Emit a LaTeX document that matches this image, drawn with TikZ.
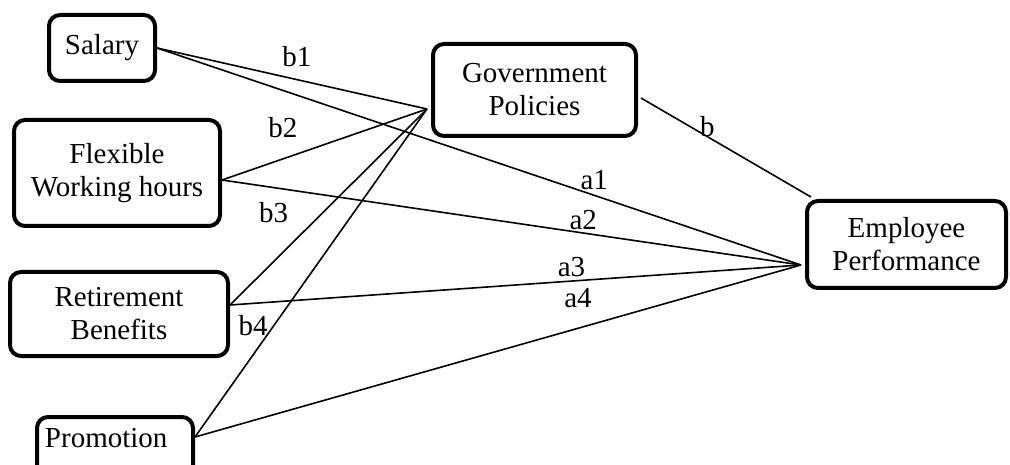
\documentclass[tikz,border=0pt]{standalone}
\usepackage{fontspec}
\setmainfont{Liberation Serif}
\usetikzlibrary{positioning}

\begin{document}
\begin{tikzpicture}[x=1pt,y=-1pt,font=\fontsize{29}{33}\selectfont,
 var/.style={draw,line width=4pt,rounded corners=11pt,align=center,inner sep=0pt},
 link/.style={line width=1.6pt},
 lab/.style={inner sep=0pt}]
 \useasboundingbox (0,0) rectangle (1010,465);
 \clip (0,0) rectangle (1010,465);
 \node[var,minimum width=106pt,minimum height=66pt] (sal) at (102,48) {Salary};
 \node[var,minimum width=206pt,minimum height=106pt] (flex) at (117,173) {Flexible\\Working hours};
 \node[var,minimum width=218pt,minimum height=84pt] (ret) at (119,314) {Retirement\\Benefits};
 \node[var,anchor=north west,minimum width=156pt,text width=140pt,align=left,
 inner xsep=8pt,inner ysep=10pt,text height=20pt,text depth=40pt] (promo) at (35,415) {Promotion};
 \node[var,minimum width=203pt,minimum height=92pt] (gov) at (534.5,90) {Government\\Policies};
 \node[var,minimum width=199pt,minimum height=87pt] (emp) at (906.5,244.5) {Employee\\Performance};
 \draw[link] (sal.east) -- node[lab,pos=.518,yshift=22.6pt] {b1} ([xshift=-4pt,yshift=-19pt]gov.west);
 \draw[link] ([yshift=-7pt]flex.east) -- node[lab,pos=.297,yshift=31pt] {b2} ([xshift=-4pt,yshift=-19pt]gov.west);
 \draw[link] ([yshift=9pt]ret.east) -- ([xshift=-4pt,yshift=-19pt]gov.west);
 \draw[link] ([yshift=-22pt]promo.north east) -- node[lab,pos=.25,yshift=29pt] {b4} ([xshift=-4pt,yshift=-19pt]gov.west);
 \draw[link] (sal.east) -- node[lab,pos=.679,yshift=15pt] {a1} ([xshift=-4pt,yshift=-20.5pt]emp.west);
 \draw[link] ([yshift=-7pt]flex.east) -- node[lab,pos=.089,yshift=-25pt] {b3}
 node[lab,pos=.624,yshift=13pt] {a2} ([xshift=-4pt,yshift=-20.5pt]emp.west);
 \draw[link] ([yshift=9pt]ret.east) -- node[lab,pos=.598,yshift=14pt] {a3} ([xshift=-4pt,yshift=-20.5pt]emp.west);
 \draw[link] ([yshift=-22pt]promo.north east) -- node[lab,pos=.632,yshift=30pt] {a4} ([xshift=-4pt,yshift=-20.5pt]emp.west);
 \draw[link] ([xshift=3pt,yshift=-8pt]gov.east) -- node[lab,pos=.39,yshift=10pt] {b} ([xshift=6pt,yshift=2pt]emp.north west);
\end{tikzpicture}
\end{document}
